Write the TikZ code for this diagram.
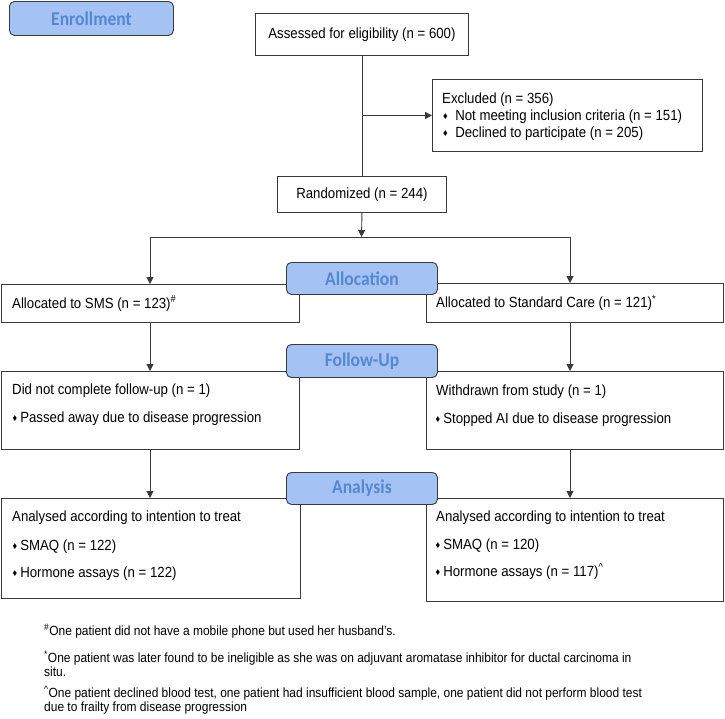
\documentclass[tikz,border=0pt]{standalone}
\usepackage{fontspec}
\setmainfont[FakeStretch=0.9]{Liberation Sans}
\newfontfamily\labfont[FakeStretch=0.9]{Carlito}
\usetikzlibrary{arrows.meta}
\definecolor{linec}{HTML}{3A3A3A}
\definecolor{labfill}{HTML}{A4C2F4}
\definecolor{labtext}{HTML}{5588CF}
\newcommand{\mainsz}{\fontsize{14.7}{17}\selectfont}
\newcommand{\labsz}{\labfont\bfseries\fontsize{19.5}{22}\selectfont}
\newcommand{\fnsz}{\fontsize{13.3}{14}\selectfont}
\newcommand{\dmd}[1]{\raisebox{0.8pt}{\fontsize{10}{10}\selectfont ♦}\hspace{#1}}
\begin{document}
\begin{tikzpicture}[x=1pt,y=-1pt,
  box/.style={draw=linec, line width=0.9pt, fill=white, inner sep=0pt, anchor=north west, font=\mainsz},
  lab/.style={draw=linec, line width=0.9pt, fill=labfill, rounded corners=5pt, inner sep=0pt, anchor=north west, text=labtext, font=\labsz},
  txt/.style={inner sep=0pt, anchor=base west, font=\mainsz},
  fn/.style={inner sep=0pt, anchor=base west, font=\fnsz},
  line/.style={draw=linec, line width=0.9pt},
  arr/.style={line, -{Triangle[length=7pt,width=7pt]}}]
\useasboundingbox (0,0) rectangle (725,718);

% boxes
\node[box, minimum width=213, minimum height=42] (assess) at (255,13) {Assessed for eligibility (n = 600)};
\node[box, minimum width=270, minimum height=72] (excl) at (432,79) {};
\node[txt] (ex0) at (442,103) {Excluded (n = 356)};
\node[txt] (ex1) at (443,120) {\dmd{7.5pt}Not meeting inclusion criteria (n = 151)};
\node[txt] (ex2) at (443,137) {\dmd{7.5pt}Declined to participate (n = 205)};

\node[box, minimum width=169, minimum height=36] (rand) at (277,176) {Randomized (n = 244)};

\node[box, minimum width=298, minimum height=38] (sms) at (1,284) {};
\node[txt] (smst) at (12,308) {Allocated to SMS (n = 123)\textsuperscript{\#}};
\node[box, minimum width=297, minimum height=39] (std) at (426,283) {};
\node[txt] (stdt) at (436,307.5) {Allocated to Standard Care (n = 121)\textsuperscript{*}};

\node[box, minimum width=298, minimum height=78] (fuL) at (1,371) {};
\node[txt] (fuL1) at (12,394) {Did not complete follow-up (n = 1)};
\node[txt] (fuL2) at (12.5,422) {\dmd{3pt}Passed away due to disease progression};
\node[box, minimum width=297, minimum height=78] (fuR) at (426,371) {};
\node[txt] (fuR1) at (436,395) {Withdrawn from study (n = 1)};
\node[txt] (fuR2) at (435.5,423) {\dmd{3pt}Stopped AI due to disease progression};

\node[box, minimum width=299, minimum height=100] (anL) at (1,498) {};
\node[txt] (anL1) at (12,521) {Analysed according to intention to treat};
\node[txt] (anL2) at (12.5,550) {\dmd{3pt}SMAQ (n = 122)};
\node[txt] (anL3) at (12.5,577) {\dmd{3pt}Hormone assays (n = 122)};
\node[box, minimum width=297, minimum height=103] (anR) at (426,498) {};
\node[txt] (anR1) at (436,521) {Analysed according to intention to treat};
\node[txt] (anR2) at (435.5,549) {\dmd{3pt}SMAQ (n = 120)};
\node[txt] (anR3) at (435.5,576) {\dmd{3pt}Hormone assays (n = 117)\textsuperscript{\textasciicircum}};

% connectors
\draw[line] (assess.south) -- (rand.north);
\draw[arr] (assess.south |- excl.west) -- (excl.west);
\coordinate (split) at (361.5,237);
\coordinate (jl) at (150,237);
\coordinate (jr) at (570,237);
\draw[arr] (rand.south) -- (split);
\draw[line] (jl) -- (jr);
\draw[arr] (jl) -- (jl |- sms.north);
\draw[arr] (jr) -- (jr |- std.north);
\draw[arr] (jl |- sms.south) -- (jl |- fuL.north);
\draw[arr] (jr |- std.south) -- (jr |- fuR.north);
\draw[arr] (jl |- fuL.south) -- (jl |- anL.north);
\draw[arr] (jr |- fuR.south) -- (jr |- anR.north);

% stage labels
\node[lab, minimum width=164, minimum height=34] (enr) at (9,1) {Enrollment};
\node[lab, minimum width=151, minimum height=32] (alloc) at (286,262) {Allocation};
\node[lab, minimum width=151, minimum height=33] (fu) at (286,344) {Follow-Up};
\node[lab, minimum width=151, minimum height=32] (an) at (286,472) {Analysis};

% footnotes
\node[fn] (f1) at (44,635.5) {\textsuperscript{\#}One patient did not have a mobile phone but used her husband’s.};
\node[fn] (f2) at (44,662.5) {\textsuperscript{*}One patient was later found to be ineligible as she was on adjuvant aromatase inhibitor for ductal carcinoma in};
\node[fn] (f2b) at (44,676.5) {situ.};
\node[fn] (f3) at (44,697.5) {\textsuperscript{\textasciicircum}One patient declined blood test, one patient had insufficient blood sample, one patient did not perform blood test};
\node[fn] (f3b) at (44,711.5) {due to frailty from disease progression};
\end{tikzpicture}
\end{document}
